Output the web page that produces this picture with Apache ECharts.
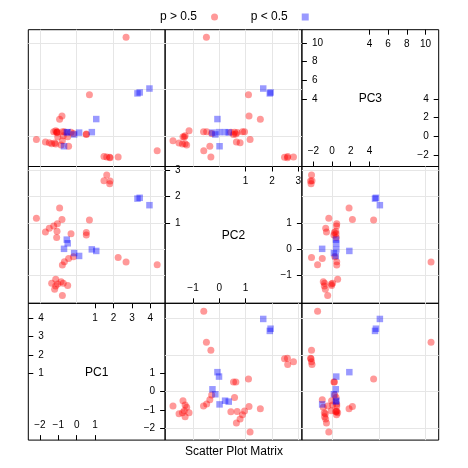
<!DOCTYPE html>
<html><head><meta charset="utf-8">
<script src="https://cdn.jsdelivr.net/npm/echarts@6/dist/echarts.min.js"></script>
<style>html,body{margin:0;padding:0;background:#fff}#c{width:468px;height:468px}</style>
</head><body><div id="c"></div>
<script>
const varNames = ['PC1', 'PC2', 'PC3'];
const groupNames = ['p > 0.5', 'p < 0.5'];

// group "p > 0.5"
const hiPC1 = [1.63, 1.48, 1.81, 1.79, -0.93, -2.19, -0.80, 0.69, -1.05, -1.25, -1.49, -1.07, -1.70, -0.31, 0.52, 0.52, -1.09, -0.18, -0.44, -0.67, -0.78, 2.25, 2.68, 4.37, -1.14, -1.36, -0.85, -1.03, -1.14, -0.73, -0.49, -1.20, -0.78];
const hiPC2 = [2.82, 2.60, 2.59, 2.48, 1.56, 1.17, 1.13, 1.11, 0.96, 0.88, 0.79, 0.68, 0.65, 0.58, 0.63, 0.54, 0.44, -0.29, -0.36, -0.48, -0.60, -0.32, -0.49, -0.59, -1.15, -1.30, -1.24, -1.33, -1.40, -1.30, -1.38, -1.53, -1.76];
const hiPC3 = [-2.20, -2.15, -2.30, -2.25, 1.82, -0.35, 2.18, 4.45, 0.50, 0.48, -0.68, 0.40, -0.60, 0.43, 0.25, 0.20, 0.45, 0.30, -1.05, 0.50, 0.50, -2.20, 10.60, -1.55, 0.60, -0.80, -0.94, -0.08, -0.83, 0.06, -0.05, -0.72, -0.47];

// group "p < 0.5"
const loPC1 = [3.42, 3.30, 3.95, -0.54, -0.49, -0.69, -0.14, 0.13, 0.82, 1.06];
const loPC2 = [1.95, 1.92, 1.67, 0.36, 0.22, 0.01, -0.15, -0.26, -0.01, -0.07];
const loPC3 = [4.70, 4.60, 5.12, 0.42, 0.45, -1.06, 0.20, 0.40, 0.45, 1.85];

// axis limits and ticks per variable
const axisMin = [-2.63, -2.06, -3.23];
const axisMax = [4.80, 3.14, 11.42];
const gridTicks = [[-2, 0, 2, 4], [-1, 0, 1, 2, 3], [0, 5, 10]];
const diagUpperTicks = [[1, 2, 3, 4], [1, 2, 3], [4, 6, 8, 10]];
const diagLowerTicks = [[-2, -1, 0, 1], [-1, 0, 1], [-2, 0, 2, 4]];

const FONT = '"Liberation Sans", Arial, Helvetica, sans-serif';
const L = 28.3, T = 29.7, S = 136.8;
const hi = [hiPC1, hiPC2, hiPC3], lo = [loPC1, loPC2, loPC3];
const fmt = v => String(v).replace('-', '\u2212');

const grids = [], xAxes = [], yAxes = [], series = [], graphics = [];

function plainAxis(g, v) {
  return {
    gridIndex: g, type: 'value', min: axisMin[v], max: axisMax[v],
    axisLine: { show: false, onZero: false },
    axisTick: { show: false, customValues: gridTicks[v] },
    axisLabel: { show: false },
    splitLine: { show: true, lineStyle: { color: '#e6e6e6', width: 1 } }
  };
}
function diagAxis(g, v, pos, ticks) {
  return {
    gridIndex: g, type: 'value', position: pos, min: axisMin[v], max: axisMax[v],
    axisLine: { show: false, onZero: false },
    axisTick: { show: true, inside: true, length: 5, customValues: ticks, lineStyle: { color: '#000', width: 1 } },
    axisLabel: { show: true, inside: true, margin: 10, customValues: ticks, formatter: fmt, fontSize: 10, color: '#000', fontFamily: FONT },
    splitLine: { show: false }
  };
}

for (let r = 0; r < 3; r++) {
  for (let c = 0; c < 3; c++) {
    const g = grids.length;
    grids.push({ left: L + c * S, top: T + r * S, width: S, height: S, show: true, borderColor: '#000', borderWidth: 1, backgroundColor: 'transparent', containLabel: false });
    const xv = c, yv = 2 - r;
    if (xv === yv) {
      xAxes.push(diagAxis(g, xv, 'top', diagUpperTicks[xv]), diagAxis(g, xv, 'bottom', diagLowerTicks[xv]));
      yAxes.push(diagAxis(g, xv, 'left', diagUpperTicks[xv]), diagAxis(g, xv, 'right', diagLowerTicks[xv]));
      graphics.push({
        type: 'text', x: L + c * S + S / 2, y: T + r * S + S / 2 + 1,
        style: { text: varNames[xv], font: '12px ' + FONT, fill: '#000', textAlign: 'center', textVerticalAlign: 'middle', align: 'center', verticalAlign: 'middle' }
      });
    } else {
      const xi = xAxes.length, yi = yAxes.length;
      xAxes.push(plainAxis(g, xv));
      yAxes.push(plainAxis(g, yv));
      series.push({
        type: 'scatter', name: groupNames[0], xAxisIndex: xi, yAxisIndex: yi,
        data: hi[xv].map((v, i) => [v, hi[yv][i]]),
        symbol: 'circle', symbolSize: 7,
        itemStyle: { color: 'rgba(255,0,0,0.5)' }, emphasis: { disabled: true }
      });
      series.push({
        type: 'scatter', name: groupNames[1], xAxisIndex: xi, yAxisIndex: yi,
        data: lo[xv].map((v, i) => [v, lo[yv][i]]),
        symbol: 'rect', symbolSize: 6.5,
        itemStyle: { color: 'rgba(0,0,255,0.5)' }, emphasis: { disabled: true }
      });
    }
  }
}

function legendFor(name, left) {
  return {
    data: [name], left: left, top: 11, padding: 0, align: 'right',
    itemWidth: 7, itemHeight: 7,
    textStyle: { fontSize: 12, color: '#000', fontFamily: FONT, padding: [0, 9, 0, 0] }
  };
}

const chart = echarts.init(document.getElementById('c'), null, { renderer: 'canvas' });
chart.setOption({
  animation: false,
  backgroundColor: '#fff',
  textStyle: { fontFamily: FONT },
  title: { text: 'Scatter Plot Matrix', left: 'center', top: 446, padding: 0, textStyle: { fontSize: 12, fontWeight: 'normal', color: '#000', fontFamily: FONT } },
  legend: [legendFor(groupNames[0], 160), legendFor(groupNames[1], 250.7)],
  grid: grids,
  xAxis: xAxes,
  yAxis: yAxes,
  series: series,
  graphic: graphics
});
</script>
</body></html>
